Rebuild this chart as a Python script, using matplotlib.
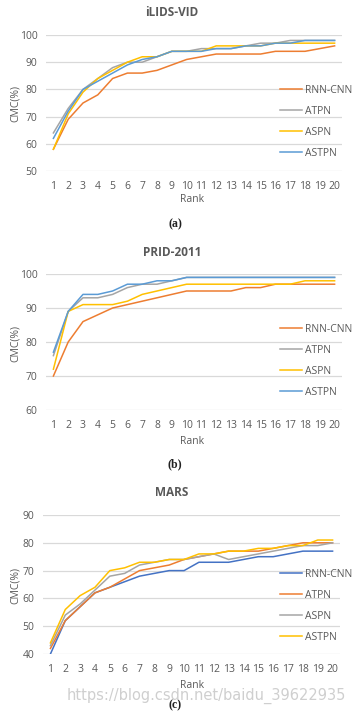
import matplotlib
matplotlib.use("Agg")
import matplotlib.pyplot as plt
from matplotlib import font_manager

ranks = list(range(1, 21))

# Panel (a) iLIDS-VID
a_rnn = [58, 69, 75, 78, 84, 86, 86, 87, 89, 91, 92, 93, 93, 93, 93, 94, 94, 94, 95, 96]
a_atpn = [64, 73, 80, 84, 88, 90, 90, 92, 94, 94, 95, 95, 95, 96, 97, 97, 98, 98, 98, 98]
a_aspn = [58, 71, 79, 84, 87, 90, 92, 92, 94, 94, 94, 96, 96, 96, 96, 97, 97, 97, 97, 97]
a_astpn = [62, 72, 80, 83, 86, 89, 91, 92, 94, 94, 94, 95, 95, 96, 96, 97, 97, 98, 98, 98]

# Panel (b) PRID-2011
b_rnn = [70, 80, 86, 88, 90, 91, 92, 93, 94, 95, 95, 95, 95, 96, 96, 97, 97, 97, 97, 97]
b_atpn = [76, 89, 93, 93, 94, 96, 97, 97, 98, 99, 99, 99, 99, 99, 99, 99, 99, 99, 99, 99]
b_aspn = [72, 89, 91, 91, 91, 92, 94, 95, 96, 97, 97, 97, 97, 97, 97, 97, 97, 98, 98, 98]
b_astpn = [77, 89, 94, 94, 95, 97, 97, 98, 98, 99, 99, 99, 99, 99, 99, 99, 99, 99, 99, 99]

# Panel (c) MARS
c_rnn = [40, 52, 57, 62, 64, 66, 68, 69, 70, 70, 73, 73, 73, 74, 75, 75, 76, 77, 77, 77]
c_atpn = [42, 52, 57, 62, 64, 67, 70, 71, 72, 74, 75, 76, 77, 77, 77, 78, 79, 80, 80, 80]
c_aspn = [43, 54, 58, 63, 68, 69, 72, 73, 74, 74, 75, 76, 74, 75, 76, 77, 78, 79, 79, 80]
c_astpn = [44, 56, 61, 64, 70, 71, 73, 73, 74, 74, 76, 76, 77, 77, 78, 78, 79, 79, 81, 81]

labels = ["RNN-CNN", "ATPN", "ASPN", "ASTPN"]
titles = ["iLIDS-VID", "PRID-2011", "MARS"]
captions = ["(a)", "(b)", "(c)"]

ORANGE = "#ED7D31"
GRAY = "#A5A5A5"
YELLOW = "#FFC000"
BLUE = "#5B9BD5"
DBLUE = "#4472C4"

avail = {f.name for f in font_manager.fontManager.ttflist}
sans = "Liberation Sans Narrow" if "Liberation Sans Narrow" in avail else "Open Sans"
plt.rcParams["font.family"] = [sans, "DejaVu Sans"]

W, H = 353, 716
fig = plt.figure(figsize=(W / 100, H / 100), dpi=100)

TXT = "#595959"

def add_panel(left, right, top, bottom, series, colors, ylim, yticks,
              title, title_y, rank_y, ylab_y, cap, cap_y, leg_y):
    ax = fig.add_axes([left / W, 1 - bottom / H, (right - left) / W, (bottom - top) / H])
    for vals, col, lab in zip(series, colors, labels):
        ax.plot(ranks, vals, color=col, lw=1.1, label=lab)
    ax.set_xlim(0.5, 20.5)
    ax.set_ylim(*ylim)
    ax.set_yticks(yticks)
    ax.set_xticks(ranks)
    ax.grid(axis="y", color="#D9D9D9", lw=0.9)
    ax.set_axisbelow(True)
    for s in ax.spines.values():
        s.set_visible(False)
    ax.tick_params(length=0, labelsize=7.5, colors=TXT)
    ax.tick_params(axis="x", pad=7)
    ax.tick_params(axis="y", pad=6)
    fig.text(172 / W, 1 - title_y / H, title, ha="center", va="center",
             fontsize=8.5, fontweight="bold", color=TXT)
    fig.text(192 / W, 1 - rank_y / H, "Rank", ha="center", va="center",
             fontsize=7.5, color=TXT)
    fig.text(15 / W, 1 - ylab_y / H, "CMC(%)", ha="center", va="center",
             fontsize=7.5, color=TXT, rotation=90)
    fig.text(175 / W, 1 - cap_y / H, cap, ha="center", va="center",
             fontsize=8.5, fontweight="bold", family="Liberation Serif", color="#222222")
    leg = ax.legend(loc="upper left",
                    bbox_to_anchor=(280 / W, 1 - leg_y / H),
                    bbox_transform=fig.transFigure,
                    frameon=False, fontsize=7.5, handlelength=2.1,
                    handletextpad=0.3, labelspacing=0.95, borderaxespad=0,
                    borderpad=0)
    for t in leg.get_texts():
        t.set_color(TXT)
    return ax

add_panel(46, 342, 35, 171, [a_rnn, a_atpn, a_aspn, a_astpn],
          [ORANGE, GRAY, YELLOW, BLUE], (50, 100), [50, 60, 70, 80, 90, 100],
          titles[0], 13, 200, 103, captions[0], 224, 85)
add_panel(46, 342, 274, 410, [b_rnn, b_atpn, b_aspn, b_astpn],
          [ORANGE, GRAY, YELLOW, BLUE], (60, 100), [60, 70, 80, 90, 100],
          titles[1], 252, 441, 343, captions[1], 464, 324)
add_panel(43, 340, 515, 654, [c_rnn, c_atpn, c_aspn, c_astpn],
          [DBLUE, ORANGE, GRAY, YELLOW], (40, 90), [40, 50, 60, 70, 80, 90],
          titles[2], 493, 685, 585, captions[2], 705, 569)

fig.text(346 / W, 1 - 696 / H, "https://blog.csdn.net/baidu_39622935",
         ha="right", va="center", fontsize=10.5, color="#CFCFCF",
         family="DejaVu Sans")

fig.savefig("out.png", dpi=100, facecolor="white")
